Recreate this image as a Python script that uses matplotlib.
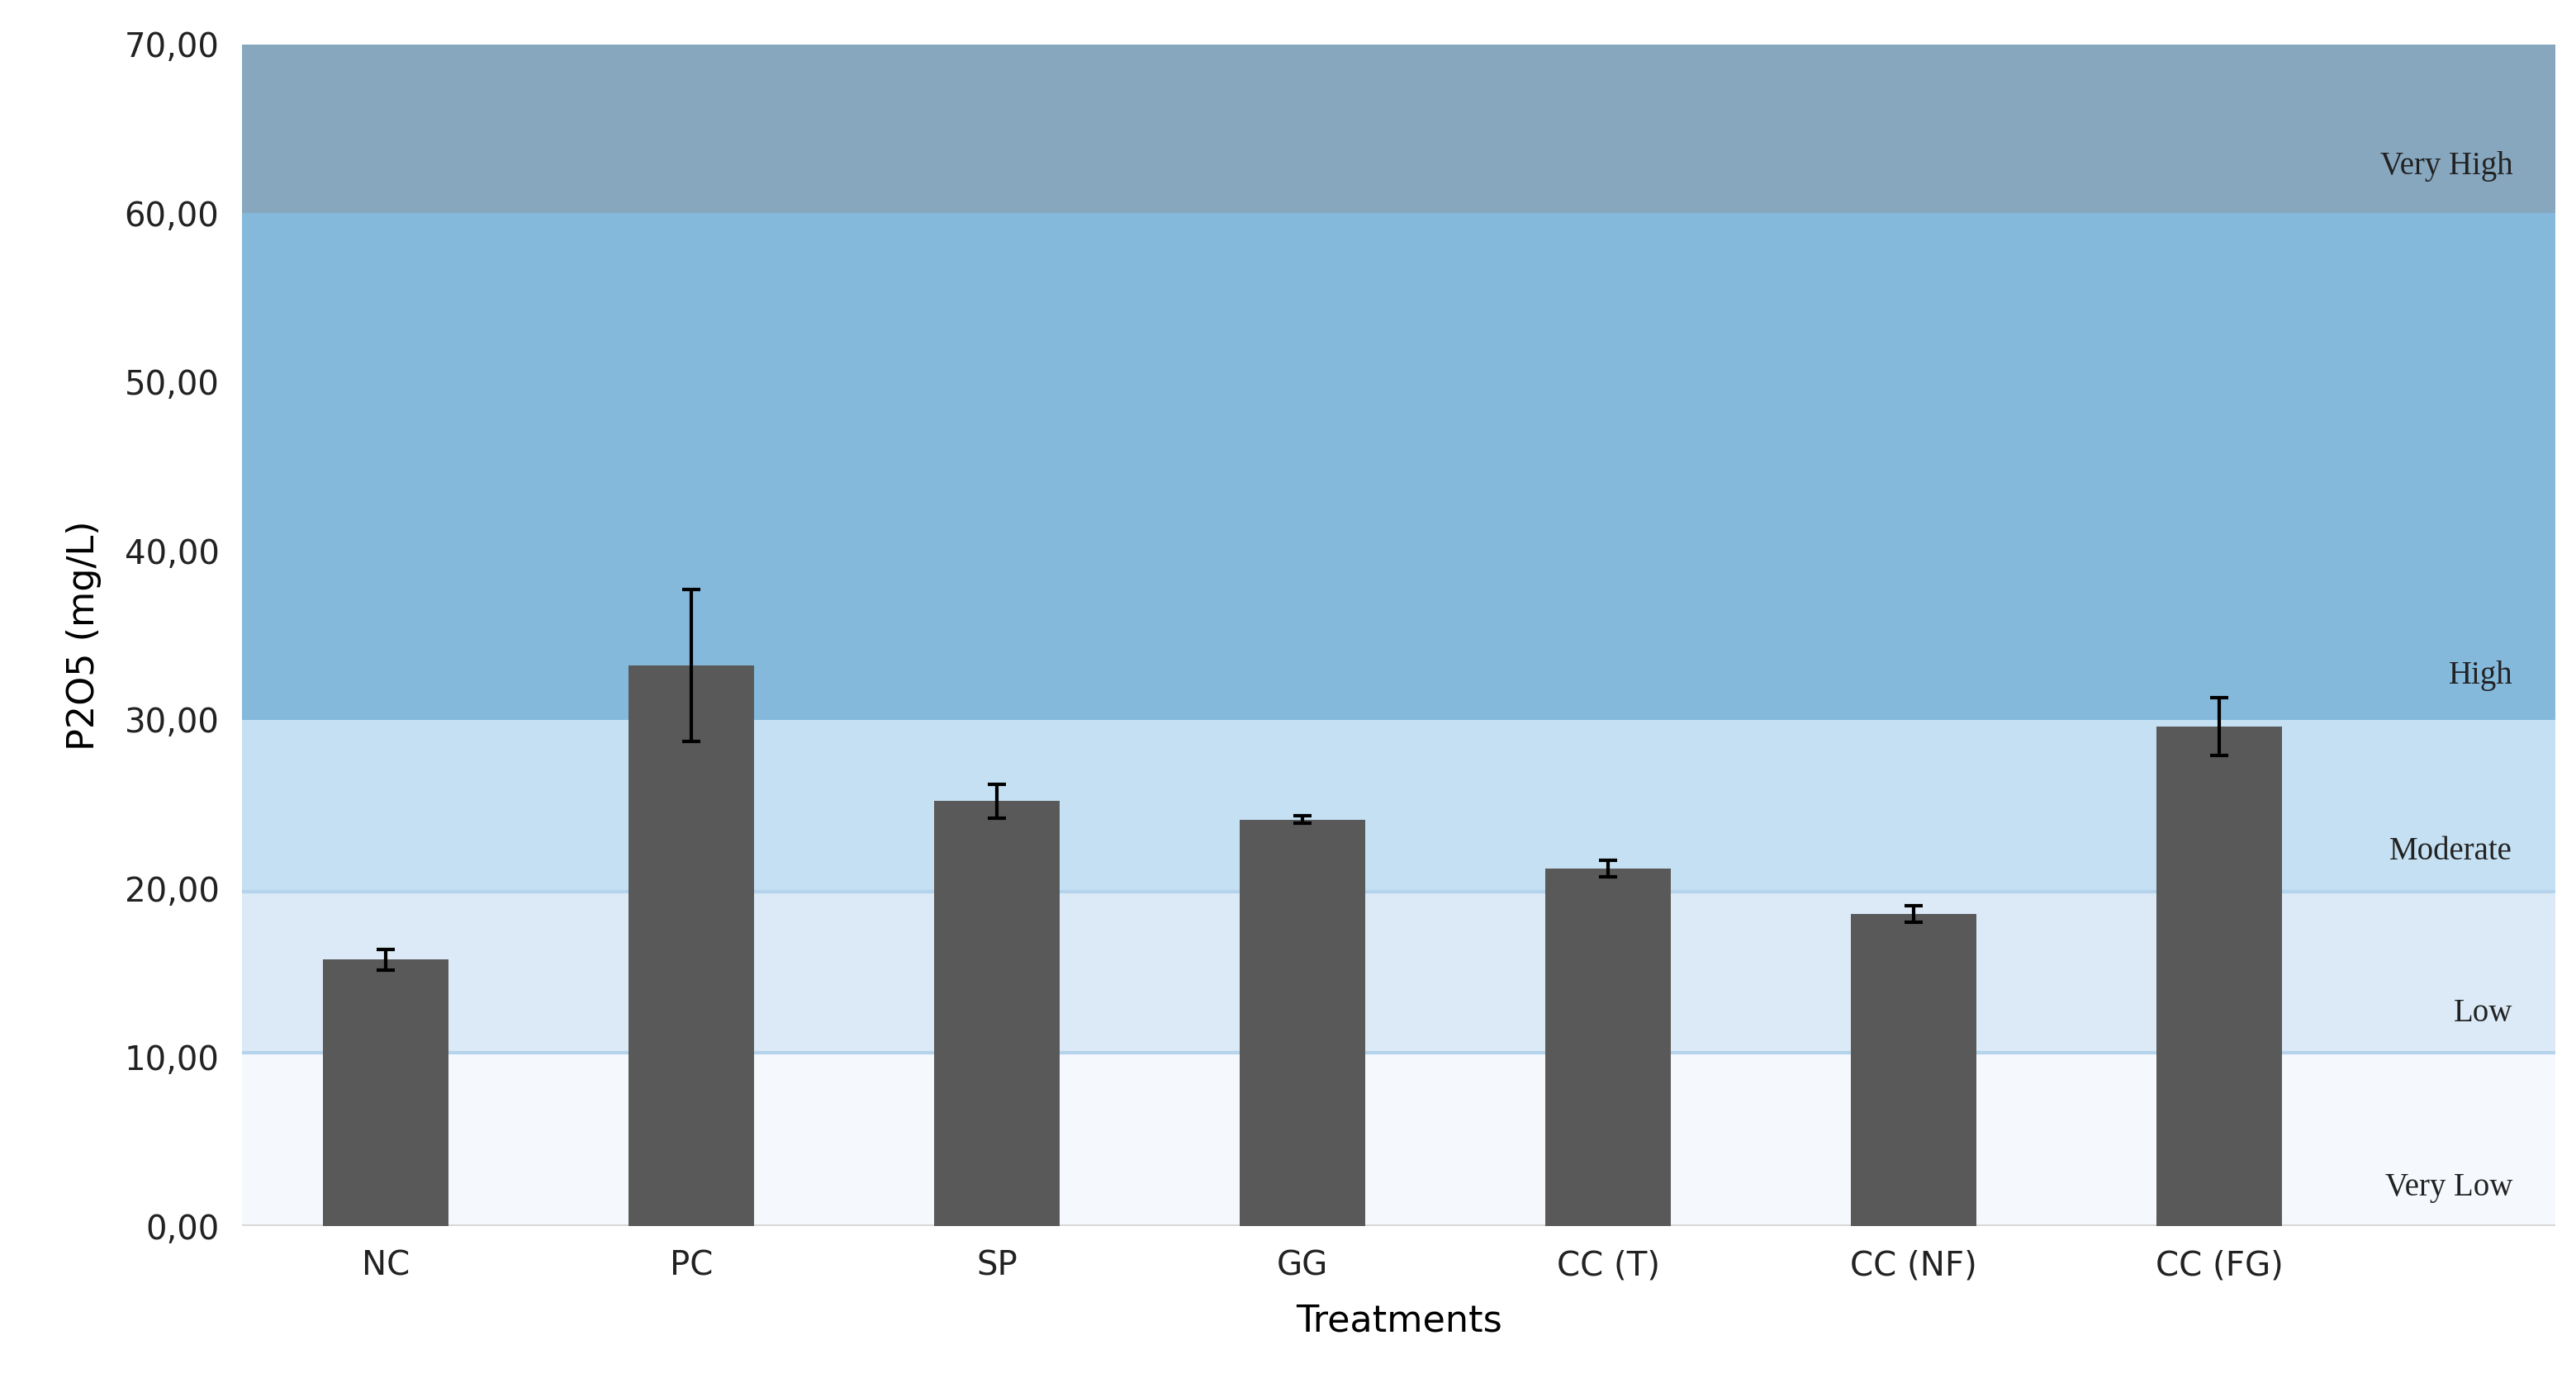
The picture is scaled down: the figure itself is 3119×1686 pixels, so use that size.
import matplotlib.pyplot as plt

treatments = ["NC", "PC", "SP", "GG", "CC (T)", "CC (NF)", "CC (FG)"]
p2o5 = [15.8, 33.2, 25.2, 24.1, 21.2, 18.5, 29.6]
err = [0.6, 4.5, 1.0, 0.2, 0.5, 0.5, 1.7]

band_edges = [0, 10.3, 19.8, 30, 60, 70]
band_colors = ["#f5f9fd", "#dbeaf6", "#c5e0f2", "#84b9dc", "#87a7bf"]
band_names = ["Very Low", "Low", "Moderate", "High", "Very High"]
band_label_y = [2.3, 12.6, 22.2, 32.6, 62.8]

fig = plt.figure(figsize=(31.19, 16.86), dpi=100)
ax = fig.add_axes([0.094, 0.119, 0.898, 0.849])

for i, c in enumerate(band_colors):
    ax.axhspan(band_edges[i], band_edges[i + 1], color=c, zorder=0, lw=0)
for i in (1, 2):
    ax.axhline(band_edges[i], color="#b5d3ea", lw=3, zorder=0.5)

x = range(len(treatments))
ax.bar(x, p2o5, width=0.41, color="#595959", zorder=2)
ax.errorbar(x, p2o5, yerr=err, fmt="none", ecolor="black", elinewidth=3,
            capsize=8, capthick=3, zorder=3)

for name, yy in zip(band_names, band_label_y):
    ax.text(6.96, yy, name, ha="right", va="center", fontsize=28,
            family="Liberation Serif", color="#222222", zorder=4)

ax.set_xlim(-0.47, 7.1)
ax.set_ylim(0, 70)
ax.set_yticks(range(0, 71, 10))
ax.set_yticklabels([f"{v},00" for v in range(0, 71, 10)])
ax.set_xticks(list(x))
ax.set_xticklabels(treatments)
for s in ax.spines.values():
    s.set_visible(False)
ax.axhline(0, color="#d9d9d9", lw=3, zorder=1)
ax.tick_params(length=0, labelsize=29, colors="#222222", pad=20)
ax.set_ylabel("P2O5 (mg/L)", fontsize=32, labelpad=20)
ax.set_xlabel("Treatments", fontsize=32, labelpad=18)

fig.savefig("out.png", dpi=100)
